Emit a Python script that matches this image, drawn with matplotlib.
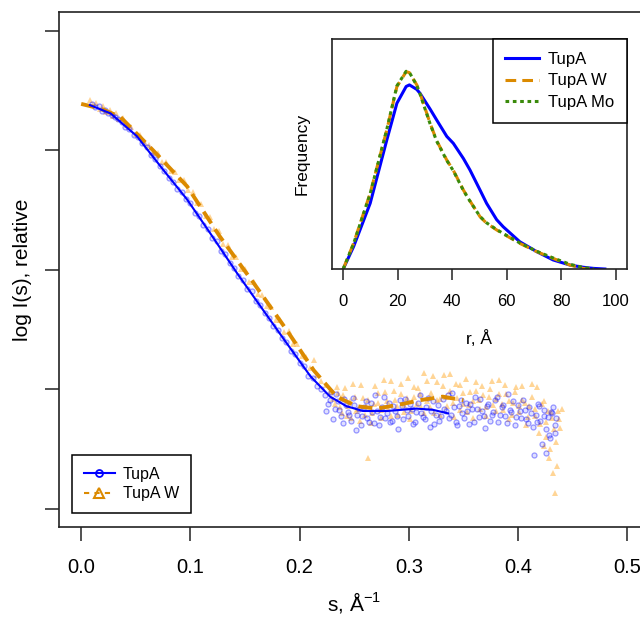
import matplotlib
matplotlib.use('Agg')
import matplotlib.pyplot as plt
from matplotlib.lines import Line2D

plt.rcParams['font.family'] = ['Liberation Sans', 'DejaVu Sans']
plt.rcParams['mathtext.fontset'] = 'custom'
plt.rcParams['mathtext.rm'] = 'Liberation Sans'

# --- кривые подгонки (log I(s))
fit_a_s = [0.008, 0.027, 0.051, 0.075, 0.097, 0.118, 0.143, 0.167, 0.188, 0.210,
           0.228, 0.243, 0.258, 0.280, 0.307, 0.322, 0.336]
fit_a_y = [-0.62, -0.69, -0.88, -1.16, -1.41, -1.69, -2.03, -2.34, -2.61, -2.89,
           -3.06, -3.14, -3.18, -3.18, -3.16, -3.17, -3.20]

fit_w_s = [0.000, 0.018, 0.036, 0.066, 0.097, 0.127, 0.158, 0.188, 0.213, 0.234,
           0.252, 0.271, 0.295, 0.310, 0.331, 0.350]
fit_w_y = [-0.61, -0.65, -0.72, -1.00, -1.30, -1.72, -2.11, -2.50, -2.84, -3.06,
           -3.14, -3.16, -3.12, -3.09, -3.06, -3.09]

# --- экспериментальные точки TupA
pts_a_s = [0.010, 0.013, 0.016, 0.019, 0.022, 0.025, 0.028, 0.031, 0.034, 0.037,
           0.040, 0.044, 0.048, 0.052, 0.056, 0.060, 0.064, 0.068, 0.072, 0.076,
           0.080, 0.084, 0.088, 0.092, 0.096, 0.100, 0.104, 0.108, 0.112, 0.116,
           0.120, 0.124, 0.128, 0.132, 0.136, 0.140, 0.144, 0.148, 0.152, 0.156,
           0.160, 0.164, 0.168, 0.172, 0.176, 0.180, 0.184, 0.188, 0.192, 0.196,
           0.200, 0.204, 0.208, 0.212, 0.216, 0.220,
           0.223, 0.226, 0.229, 0.232, 0.235, 0.238, 0.241, 0.244, 0.247, 0.250,
           0.253, 0.256, 0.259, 0.262, 0.265, 0.268, 0.271, 0.274, 0.277, 0.280,
           0.283, 0.286, 0.289, 0.292, 0.295, 0.298, 0.301, 0.304, 0.307, 0.310,
           0.313, 0.316, 0.319, 0.322, 0.325, 0.328, 0.331, 0.334, 0.337, 0.340,
           0.343, 0.346, 0.349, 0.352, 0.355, 0.358, 0.361, 0.364, 0.367, 0.370,
           0.373, 0.376, 0.379, 0.382, 0.385, 0.388, 0.391, 0.394, 0.397, 0.400,
           0.403, 0.406, 0.409, 0.412, 0.415, 0.417, 0.419, 0.422, 0.424, 0.426,
           0.428, 0.430, 0.432, 0.434, 0.435]
pts_a_y = [-0.61, -0.64, -0.63, -0.67, -0.66, -0.69, -0.70, -0.72, -0.74, -0.76,
           -0.80, -0.82, -0.87, -0.89, -0.94, -0.97, -1.04, -1.07, -1.13, -1.17,
           -1.23, -1.26, -1.32, -1.35, -1.41, -1.44, -1.52, -1.55, -1.62, -1.66,
           -1.73, -1.76, -1.84, -1.87, -1.94, -1.98, -2.05, -2.08, -2.16, -2.18,
           -2.26, -2.29, -2.36, -2.40, -2.47, -2.50, -2.57, -2.60, -2.68, -2.70,
           -2.78, -2.80, -2.89, -2.90, -2.97, -3.00,
           -3.05, -3.12, -3.02, -3.16, -3.10, -3.22, -3.08, -3.19, -3.26, -3.13,
           -3.21, -3.30, -3.15, -3.24, -3.11, -3.28, -3.18, -3.23, -3.06, -3.20,
           -3.27, -3.14, -3.22, -3.09, -3.25, -3.17, -3.12, -3.29, -3.19, -3.05,
           -3.23, -3.15, -3.31, -3.10, -3.21, -3.26, -3.08, -3.18, -3.24, -3.03,
           -3.27, -3.14, -3.20, -3.11, -3.29, -3.16, -3.06, -3.23, -3.18, -3.32,
           -3.12, -3.21, -3.09, -3.27, -3.15, -3.22, -3.04, -3.19, -3.30, -3.13,
           -3.24, -3.17, -3.28, -3.20, -3.55, -3.27, -3.14, -3.46, -3.22, -3.53,
           -3.38, -3.19, -3.15, -3.30, -3.24]
# вторая серия точек TupA в области плато
pts_a_s2 = [0.2245, 0.2275, 0.2305, 0.2335, 0.2365, 0.2395, 0.2425, 0.2455, 0.2485, 0.2515,
            0.2545, 0.2575, 0.2605, 0.2635, 0.2665, 0.2695, 0.2725, 0.2755, 0.2785, 0.2815,
            0.2845, 0.2875, 0.2905, 0.2935, 0.2965, 0.2995, 0.3025, 0.3055, 0.3085, 0.3115,
            0.3145, 0.3175, 0.3205, 0.3235, 0.3265, 0.3295, 0.3325, 0.3355, 0.3385, 0.3415,
            0.3445, 0.3475, 0.3505, 0.3535, 0.3565, 0.3595, 0.3625, 0.3655, 0.3685, 0.3715,
            0.3745, 0.3775, 0.3805, 0.3835, 0.3865, 0.3895, 0.3925, 0.3955, 0.3985, 0.4015,
            0.4045, 0.4075, 0.4105, 0.4135, 0.4165, 0.4185, 0.4205, 0.4235, 0.4255, 0.4275,
            0.4295, 0.4315, 0.4335]
pts_a_y2 = [-3.18, -3.09, -3.25, -3.04, -3.17, -3.28, -3.13, -3.21, -3.07, -3.34,
            -3.16, -3.22, -3.10, -3.27, -3.19, -3.05, -3.30, -3.15, -3.24, -3.11,
            -3.26, -3.18, -3.33, -3.14, -3.08, -3.22, -3.16, -3.27, -3.11, -3.20,
            -3.25, -3.07, -3.18, -3.29, -3.13, -3.22, -3.16, -3.05, -3.21, -3.15,
            -3.30, -3.09, -3.24, -3.18, -3.12, -3.27, -3.16, -3.08, -3.22, -3.14,
            -3.26, -3.19, -3.06, -3.21, -3.13, -3.28, -3.17, -3.10, -3.23, -3.18,
            -3.09, -3.25, -3.15, -3.31, -3.21, -3.12, -3.26, -3.17, -3.33, -3.23,
            -3.41, -3.20, -3.36]

# --- экспериментальные точки TupA W
pts_w_s = [0.008, 0.011, 0.014, 0.017, 0.020, 0.023, 0.026, 0.029, 0.032, 0.035,
           0.038, 0.042, 0.046, 0.050, 0.054, 0.058, 0.062, 0.066, 0.070, 0.074,
           0.078, 0.082, 0.086, 0.090, 0.094, 0.098, 0.102, 0.106, 0.110, 0.114,
           0.118, 0.122, 0.126, 0.130, 0.134, 0.138, 0.142, 0.146, 0.150, 0.154,
           0.158, 0.162, 0.166, 0.170, 0.174, 0.178, 0.182, 0.186, 0.190, 0.194,
           0.198, 0.202, 0.206, 0.210, 0.213, 0.216, 0.220, 0.224, 0.228,
           0.231, 0.234, 0.237, 0.240, 0.243, 0.246, 0.249, 0.252, 0.255, 0.258,
           0.261, 0.263, 0.266, 0.269, 0.272, 0.275, 0.278, 0.281, 0.284, 0.287,
           0.290, 0.293, 0.296, 0.299, 0.302, 0.305, 0.308, 0.311, 0.314, 0.317,
           0.320, 0.323, 0.326, 0.329, 0.332, 0.335, 0.338, 0.341, 0.344, 0.347,
           0.350, 0.353, 0.356, 0.359, 0.362, 0.365, 0.368, 0.371, 0.374, 0.377,
           0.380, 0.383, 0.386, 0.389, 0.392, 0.395, 0.398, 0.401, 0.404, 0.407,
           0.410, 0.413, 0.416, 0.419, 0.422, 0.424, 0.426, 0.428, 0.430, 0.432,
           0.433, 0.434, 0.436, 0.438, 0.440]
pts_w_y = [-0.58, -0.62, -0.60, -0.65, -0.63, -0.68, -0.66, -0.71, -0.69, -0.74,
           -0.73, -0.79, -0.80, -0.86, -0.87, -0.94, -0.95, -1.02, -1.02, -1.10,
           -1.10, -1.17, -1.18, -1.25, -1.25, -1.33, -1.35, -1.44, -1.45, -1.55,
           -1.56, -1.66, -1.67, -1.78, -1.79, -1.89, -1.89, -1.99, -1.99, -2.10,
           -2.10, -2.20, -2.21, -2.30, -2.31, -2.42, -2.42, -2.52, -2.51, -2.62,
           -2.62, -2.72, -2.73, -2.82, -2.75, -2.88, -2.93, -2.96, -3.02,
           -3.08, -2.98, -3.15, -3.05, -3.22, -3.10, -2.95, -3.18, -3.26, -3.07,
           -3.14, -3.57, -3.20, -2.97, -3.11, -3.24, -3.02, -3.16, -2.93, -3.09,
           -3.21, -3.04, -3.13, -2.90, -3.18, -3.06, -2.99, -3.15, -2.86, -3.10,
           -3.03, -3.20, -2.94, -3.08, -2.88, -3.14, -3.01, -3.23, -3.07, -2.96,
           -3.12, -3.19, -3.02, -3.10, -2.94, -3.16, -3.05, -3.22, -3.00, -3.13,
           -3.08, -2.92, -3.17, -3.04, -3.25, -3.11, -2.98, -3.19, -3.09, -3.30,
           -3.14, -2.95, -3.22, -3.36, -3.12, -3.47, -3.27, -3.57, -3.19, -3.70,
           -3.33, -3.87, -3.64, -3.25, -3.16]
# вторая серия точек TupA W в области плато
pts_w_s2 = [0.2325, 0.2355, 0.2385, 0.2415, 0.2445, 0.2475, 0.2505, 0.2535, 0.2565, 0.2595,
            0.2625, 0.2655, 0.2685, 0.2715, 0.2745, 0.2775, 0.2805, 0.2835, 0.2865, 0.2895,
            0.2925, 0.2955, 0.2985, 0.3015, 0.3045, 0.3075, 0.3105, 0.3135, 0.3165, 0.3195,
            0.3225, 0.3255, 0.3285, 0.3315, 0.3345, 0.3375, 0.3405, 0.3435, 0.3465, 0.3495,
            0.3525, 0.3555, 0.3585, 0.3615, 0.3645, 0.3675, 0.3705, 0.3735, 0.3765, 0.3795,
            0.3825, 0.3855, 0.3885, 0.3915, 0.3945, 0.3975, 0.4005, 0.4035, 0.4065, 0.4095,
            0.4125, 0.4155, 0.4175, 0.4205, 0.4235, 0.4255, 0.4275, 0.4295, 0.4315, 0.4345,
            0.4365, 0.4385]
pts_w_y2 = [-3.12, -3.03, -3.20, -2.99, -3.14, -3.24, -3.06, -3.16, -2.96, -3.21,
            -3.09, -3.28, -3.12, -3.03, -3.17, -2.92, -3.10, -3.22, -3.01, -3.14,
            -2.95, -3.19, -3.07, -3.25, -2.98, -3.12, -3.04, -3.20, -2.93, -3.15,
            -2.89, -3.09, -3.21, -2.97, -3.06, -2.87, -3.11, -2.95, -3.17, -3.03,
            -2.91, -3.13, -3.24, -3.01, -3.09, -2.97, -3.15, -3.06, -2.93, -3.18,
            -3.04, -3.12, -2.96, -3.10, -3.21, -3.02, -3.14, -2.97, -3.11, -3.23,
            -3.06, -3.16, -2.98, -3.29, -3.10, -3.40, -3.18, -3.50, -3.24, -3.44,
            -3.18, -3.32]

# --- распределение расстояний p(r) для вставки
pr_r = [0, 3.8, 9.9, 16.0, 19.7, 23.1, 24.3, 27.0, 28.2, 31.9, 34.3, 38.0, 40.4,
        44.1, 46.5, 50.2, 52.6, 56.3, 58.7, 64.8, 71.0, 77.0, 83.2, 88.0, 89.3,
        90.5, 92.0, 96.0]
pr_a = [0, 0.113, 0.333, 0.654, 0.840, 0.925, 0.933, 0.910, 0.890, 0.810, 0.755,
        0.672, 0.637, 0.560, 0.502, 0.400, 0.333, 0.250, 0.214, 0.138, 0.088,
        0.046, 0.020, 0.009, 0.007, 0.005, 0.003, 0.0]
pr_w = [0, 0.130, 0.384, 0.705, 0.924, 1.000, 0.995, 0.933, 0.890, 0.738, 0.650,
        0.552, 0.500, 0.400, 0.345, 0.265, 0.232, 0.198, 0.178, 0.130, 0.088,
        0.054, 0.020, 0.003, 0.001, 0.0, None, None]
pr_mo = [0, 0.128, 0.382, 0.708, 0.928, 1.002, 0.996, 0.930, 0.886, 0.735, 0.648,
         0.550, 0.498, 0.398, 0.344, 0.266, 0.234, 0.200, 0.180, 0.132, 0.090,
         0.056, 0.024, 0.008, 0.005, 0.003, 0.0, None]

blue = '#0000FF'
orange = '#DB8A00'
tri_col = '#FFB340'
green = '#3A8A0A'

fig = plt.figure(figsize=(6.4, 6.22), dpi=100)
ax = fig.add_axes([0.0927, 0.1527, 0.9214, 0.828])

# точки
for s, y in [(pts_w_s, pts_w_y), (pts_w_s2, pts_w_y2)]:
    ax.plot(s, y, '^', color=tri_col, alpha=0.55, markersize=4.6,
            markeredgewidth=0, linestyle='none')
for s, y in [(pts_a_s, pts_a_y), (pts_a_s2, pts_a_y2)]:
    ax.plot(s, y, 'o', mfc=(0, 0, 1, 0.12), mec=(0, 0, 1, 0.38),
            markersize=3.6, markeredgewidth=0.9, linestyle='none')

# подгонка
ax.plot(fit_w_s, fit_w_y, color=orange, lw=2.8, dashes=(3.6, 1.8))
ax.plot(fit_a_s, fit_a_y, color=blue, lw=1.5)

ax.set_xlim(-0.02, 0.52)
ax.set_ylim(-4.151, 0.159)
ax.set_xticks([0.0, 0.1, 0.2, 0.3, 0.4, 0.5])
ax.set_xticklabels(['0.0', '0.1', '0.2', '0.3', '0.4', '0.5'])
ax.set_yticks([-4, -3, -2, -1, 0])
ax.set_yticklabels([])
ax.tick_params(length=10, width=1.1, labelsize=14.5, pad=12, color='#222222')
for sp in ax.spines.values():
    sp.set_linewidth(1.2)
    sp.set_color('#222222')

ax.set_xlabel('s, Å$^{\\mathrm{-1}}$', fontsize=15, labelpad=10)
ax.set_ylabel('log I(s), relative', fontsize=15)
ax.yaxis.set_label_coords(-0.046, 0.5)

h1 = Line2D([], [], color=blue, lw=1.5, marker='o', mfc='none', mec=blue,
            markersize=5, markeredgewidth=1.3)
h2 = Line2D([], [], color=orange, lw=1.5, dashes=(2.5, 2.5), marker='^',
            mfc='none', mec=orange, markersize=7, markeredgewidth=1.5)
leg = ax.legend([h1, h2], ['TupA', 'TupA W'], loc='lower left',
                bbox_to_anchor=(0.022, 0.0266), borderaxespad=0,
                fontsize=11.5, fancybox=False, framealpha=1, edgecolor='black',
                handlelength=1.9, handletextpad=0.5, labelspacing=0.3,
                borderpad=0.75)
leg.get_frame().set_linewidth(1.1)

# --- вставка p(r)
ins = fig.add_axes([0.5192, 0.5675, 0.46, 0.3693])
ins.plot(pr_r, pr_a, color=blue, lw=2.2, label='TupA')
ins.plot(pr_r, pr_w, color=orange, lw=2.2, dashes=(3.5, 2.0), label='TupA W')
ins.plot(pr_r, pr_mo, color=green, lw=2.2, dashes=(1.2, 1.2), label='TupA Mo')
ins.set_xlim(-4, 104)
ins.set_ylim(0, 1.164)
ins.set_xticks([0, 20, 40, 60, 80, 100])
ins.set_yticks([])
ins.tick_params(length=8, width=1.1, labelsize=12, pad=10, color='#222222')
for sp in ins.spines.values():
    sp.set_linewidth(1.2)
    sp.set_color('#222222')
ins.set_xlabel('r, Å', fontsize=12.5, labelpad=15)
ins.set_ylabel('Frequency', fontsize=12.5, labelpad=16)
leg2 = ins.legend(loc='upper right', borderaxespad=0, fontsize=12,
                  fancybox=False, framealpha=1, edgecolor='black',
                  handlelength=2.0, handletextpad=0.55, labelspacing=0.4,
                  borderpad=0.75)
leg2.get_frame().set_linewidth(1.1)

fig.savefig('out.png', dpi=100)
